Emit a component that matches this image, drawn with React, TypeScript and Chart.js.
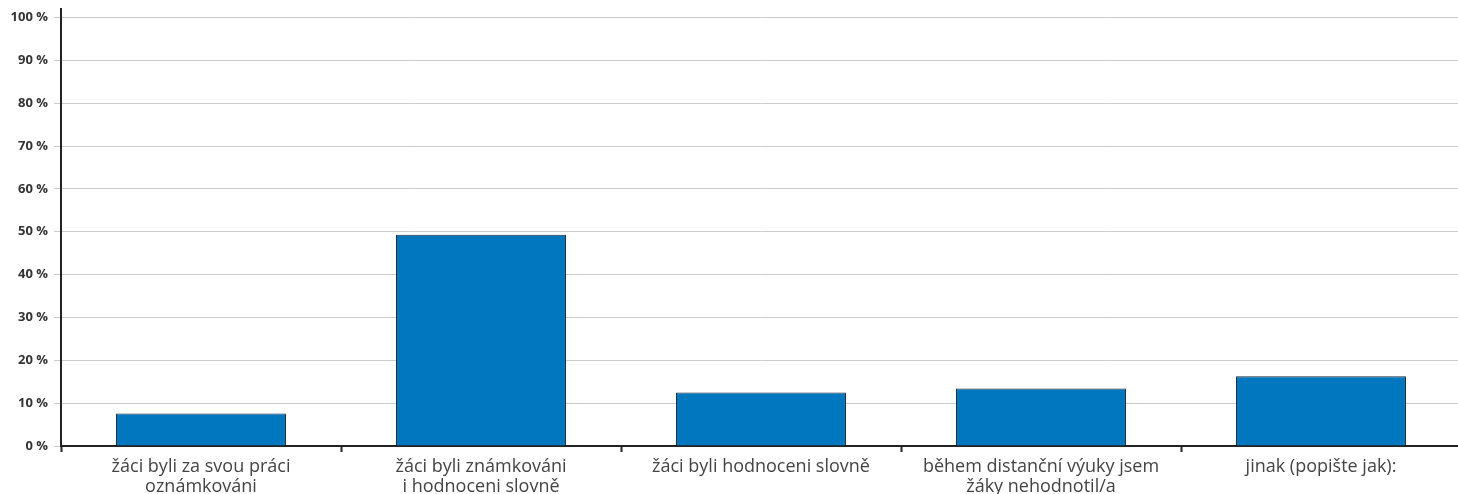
import React, { useEffect, useRef } from "react";
import { Chart, registerables } from "chart.js";

Chart.register(...registerables);

const categories: (string | string[])[] = [
  ["žáci byli za svou práci", "oznámkováni"],
  ["žáci byli známkováni", "i hodnoceni slovně"],
  "žáci byli hodnoceni slovně",
  ["během distanční výuky jsem", "žáky nehodnotil/a"],
  "jinak (popište jak):",
];
const values = [7.6, 49.3, 12.5, 13.4, 16.3];
const yTickValues = [0, 10, 20, 30, 40, 50, 60, 70, 80, 90, 100];

export default function App() {
  const ref = useRef<HTMLCanvasElement | null>(null);
  useEffect(() => {
    if (!ref.current) return;
    const chart = new Chart(ref.current, {
      type: "bar",
      data: {
        labels: categories,
        datasets: [
          {
            data: values,
            backgroundColor: "#0077BE",
            borderColor: "#1f2a33",
            borderWidth: 1,
            barPercentage: 0.607,
            categoryPercentage: 1,
          },
        ],
      },
      options: {
        responsive: false,
        animation: false,
        layout: { padding: { top: 9, right: 0, left: 0, bottom: 0 } },
        plugins: { legend: { display: false }, tooltip: { enabled: false } },
        scales: {
          x: {
            offset: true,
            afterFit: (s: any) => {
              s.height = 48;
            },
            grid: {
              display: true,
              drawOnChartArea: false,
              offset: true,
              tickLength: 6,
              tickColor: "#222",
              tickWidth: 2,
              color: "#222",
            },
            border: { color: "#222", width: 2 },
            ticks: {
              color: "#444",
              padding: 5,
              maxRotation: 0,
              autoSkip: false,
              font: { family: "'Open Sans'", size: 18, lineHeight: 1.1 },
            },
          },
          y: {
            min: 0,
            max: 102,
            afterFit: (s: any) => {
              s.width = 61;
              s.paddingTop = 0;
              s.paddingBottom = 0;
            },
            afterBuildTicks: (s: any) => {
              s.ticks = yTickValues.map((v) => ({ value: v }));
            },
            grid: {
              color: "#cccccc",
              lineWidth: 1,
              tickLength: 7,
              tickColor: "#cccccc",
            },
            border: { color: "#222", width: 2 },
            ticks: {
              padding: 6,
              color: "#333",
              font: { family: "'Open Sans'", size: 13, weight: "bold" },
              callback: (v: any) => `${v} %`,
            },
          },
        },
      },
    });
    return () => chart.destroy();
  }, []);
  return (
    <div
      style={{
        position: "absolute",
        left: 0,
        top: 0,
        width: 1458,
        height: 494,
        overflow: "hidden",
        background: "#fff",
      }}
    >
      <canvas ref={ref} width={1461} height={494} style={{ display: "block" }} />
    </div>
  );
}
